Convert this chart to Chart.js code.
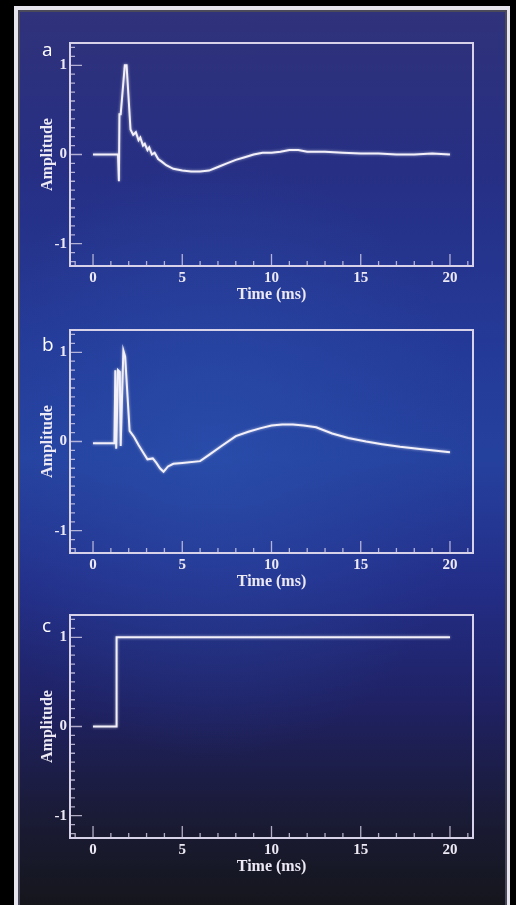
<!DOCTYPE html>
<html>
<head>
<meta charset="utf-8">
<script src="https://cdn.jsdelivr.net/npm/chart.js@4.4.1/dist/chart.umd.min.js"></script>
<style>
  html, body { margin: 0; padding: 0; background: #000; }
  body { width: 516px; height: 905px; position: relative; overflow: hidden; }
  .frame { position: absolute; left: 14px; top: 6px; width: 496px; height: 899px; background: #e6e4ec; }
  .inner { position: absolute; left: 18px; top: 10px; width: 489px; height: 895px; background: #4a4a5a; }
  .bg {
    position: absolute; left: 20px; top: 12px; width: 485px; height: 893px;
    background:
      radial-gradient(ellipse 260px 300px at 40% 50%, rgba(44, 84, 178, 0.55), rgba(44, 84, 178, 0) 100%),
      linear-gradient(to bottom, #30327a 0%, #262f84 18%, #243a98 38%, #25419e 50%, #232e88 64%, #1f2162 78%, #1a1b36 90%, #15161c 100%);
  }
  canvas { position: absolute; left: 0; }
  .tag { position: absolute; font-family: "Open Sans", sans-serif; font-size: 19px; line-height: 19px; color: #fff; }
</style>
</head>
<body>
<div class="frame"></div>
<div class="inner"></div>
<div class="bg"></div>
<canvas id="chartA" width="516" height="304" style="top:0px"></canvas>
<canvas id="chartB" width="516" height="304" style="top:287px"></canvas>
<canvas id="chartC" width="516" height="304" style="top:572px"></canvas>
<div class="tag" style="left:42px; top:40px">a</div>
<div class="tag" style="left:42px; top:335px">b</div>
<div class="tag" style="left:42px; top:616px">c</div>
<script>
// ── data ──
const timeA = [0, 1.4, 1.45, 1.48, 1.55, 1.78, 1.88, 2.1, 2.25, 2.4, 2.55, 2.65, 2.8, 2.9, 3.05, 3.15, 3.3, 3.45, 3.65, 3.85, 4.1, 4.5, 5.0, 5.5, 6.0, 6.5, 7.0, 7.5, 8.0, 8.5, 9.0, 9.5, 10, 10.5, 11, 11.5, 12, 13, 14, 15, 16, 17, 18, 19, 20];
const ampA  = [0, 0, -0.3, 0.45, 0.45, 1.0, 1.0, 0.28, 0.22, 0.25, 0.16, 0.19, 0.1, 0.12, 0.05, 0.08, 0.0, 0.02, -0.05, -0.08, -0.12, -0.16, -0.18, -0.19, -0.19, -0.18, -0.14, -0.1, -0.06, -0.03, 0.0, 0.02, 0.02, 0.03, 0.05, 0.05, 0.03, 0.03, 0.02, 0.01, 0.01, 0.0, 0.0, 0.01, 0.0];

const timeB = [0, 1.2, 1.25, 1.3, 1.4, 1.5, 1.55, 1.7, 1.8, 2.05, 2.3, 2.55, 2.8, 3.05, 3.35, 3.55, 3.75, 3.95, 4.2, 4.5, 5.0, 6.0, 6.5, 7.2, 8.0, 8.7, 9.4, 10, 10.6, 11.2, 11.8, 12.5, 13.4, 14.3, 15.3, 16.2, 17.2, 18.2, 19.1, 20];
const ampB  = [-0.02, -0.02, 0.8, -0.08, 0.8, 0.78, -0.05, 1.02, 0.95, 0.12, 0.05, -0.04, -0.12, -0.2, -0.19, -0.24, -0.3, -0.34, -0.28, -0.25, -0.24, -0.22, -0.15, -0.05, 0.06, 0.11, 0.15, 0.18, 0.19, 0.19, 0.18, 0.16, 0.09, 0.04, 0.0, -0.03, -0.06, -0.08, -0.1, -0.12];

const timeC = [0, 1.32, 1.32, 20];
const ampC  = [0, 0, 1, 1];

const xTicks = [0, 5, 10, 15, 20];
const yTicks = [-1, 0, 1];
const xLabel = 'Time (ms)';
const yLabel = 'Amplitude';

// ── styling ──
const INK   = '#ece8f4';
const FRAME = '#d8d1ea';
const tickFont  = { family: 'Liberation Serif', size: 15, weight: 'bold' };
const titleFont = { family: 'Liberation Serif', size: 16, weight: 'bold' };

// box, inner minor/major ticks (positions from the scales)
const frameTicks = {
  id: 'frameTicks',
  beforeDatasetsDraw(chart) {
    const { ctx, chartArea: a, scales: { x, y } } = chart;
    ctx.save();
    ctx.strokeStyle = FRAME;
    ctx.lineWidth = 2;
    ctx.strokeRect(a.left, a.top, a.right - a.left, a.bottom - a.top);

    ctx.lineWidth = 1.3;
    ctx.globalAlpha = 0.8;
    ctx.beginPath();
    for (let v = -1; v <= 21; v++) {
      const px = x.getPixelForValue(v);
      const len = v % 5 === 0 ? 12 : 5;
      ctx.moveTo(px, a.bottom);
      ctx.lineTo(px, a.bottom - len);
    }
    for (let i = -12; i <= 12; i++) {
      const py = y.getPixelForValue(i / 10);
      const len = i % 10 === 0 ? 12 : 5;
      ctx.moveTo(a.left, py);
      ctx.lineTo(a.left + len, py);
    }
    ctx.stroke();
    ctx.restore();
  },
  beforeDatasetDraw(chart) {
    chart.ctx.save();
    chart.ctx.shadowColor = 'rgba(255,255,255,0.6)';
    chart.ctx.shadowBlur = 3;
  },
  afterDatasetDraw(chart) {
    chart.ctx.restore();
  },
};

function makePanel(id, times, amps) {
  new Chart(document.getElementById(id), {
    type: 'line',
    data: {
      datasets: [{
        data: times.map((t, i) => ({ x: t, y: amps[i] })),
        borderColor: '#f3f0fa',
        borderWidth: 2,
        pointRadius: 0,
        tension: 0,
      }],
    },
    options: {
      responsive: false,
      animation: false,
      devicePixelRatio: 1,
      layout: { padding: { left: 38, top: 43, right: 43, bottom: 0 } },
      plugins: { legend: { display: false }, tooltip: { enabled: false } },
      scales: {
        x: {
          type: 'linear',
          min: -1.29,
          max: 21.29,
          afterBuildTicks: s => { s.ticks = xTicks.map(v => ({ value: v })); },
          afterFit: s => { s.height = 38; },
          grid: { display: false, drawTicks: false },
          border: { display: false },
          ticks: { color: INK, font: tickFont, padding: 3, maxRotation: 0, autoSkip: false },
          title: { display: true, text: xLabel, color: INK, font: titleFont, padding: 0 },
        },
        y: {
          min: -1.25,
          max: 1.25,
          afterBuildTicks: s => { s.ticks = yTicks.map(v => ({ value: v })); },
          afterFit: s => { s.width = 32; },
          grid: { display: false, drawTicks: false },
          border: { display: false },
          ticks: { color: INK, font: tickFont, padding: 3 },
          title: { display: true, text: yLabel, color: INK, font: titleFont, padding: 0 },
        },
      },
    },
    plugins: [frameTicks],
  });
}

makePanel('chartA', timeA, ampA);
makePanel('chartB', timeB, ampB);
makePanel('chartC', timeC, ampC);
</script>
</body>
</html>
